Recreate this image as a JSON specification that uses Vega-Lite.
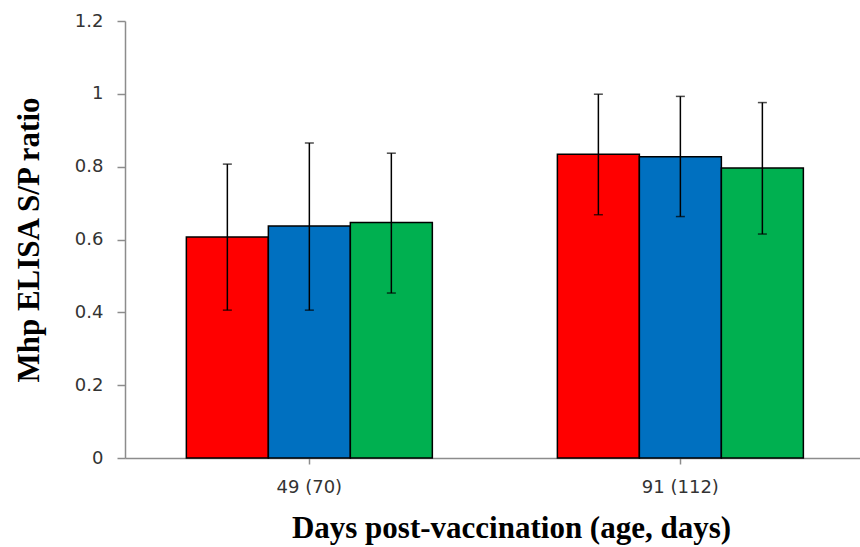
{
  "$schema": "https://vega.github.io/schema/vega-lite/v6.json",
  "width": 735,
  "height": 437,
  "autosize": "none",
  "padding": {"left": 125, "top": 21, "right": 0, "bottom": 89},
  "background": "white",
  "config": {"view": {"stroke": null}},
  "data": {
    "values": [
      {"day": "49 (70)", "group": "Group 1", "mean": 0.607, "lo": 0.406, "hi": 0.807},
      {"day": "49 (70)", "group": "Group 2", "mean": 0.637, "lo": 0.406, "hi": 0.865},
      {"day": "49 (70)", "group": "Group 3", "mean": 0.647, "lo": 0.453, "hi": 0.837},
      {"day": "91 (112)", "group": "Group 1", "mean": 0.834, "lo": 0.668, "hi": 0.999},
      {"day": "91 (112)", "group": "Group 2", "mean": 0.827, "lo": 0.663, "hi": 0.993},
      {"day": "91 (112)", "group": "Group 3", "mean": 0.796, "lo": 0.615, "hi": 0.976}
    ]
  },
  "encoding": {
    "x": {
      "field": "day", "type": "nominal",
      "scale": {"paddingInner": 0.337, "paddingOuter": 0.159, "align": 0.52},
      "axis": {
        "title": "Days post-vaccination (age, days)",
        "titleFont": "Liberation Serif", "titleFontWeight": "bold", "titleFontSize": 31, "titleColor": "black",
        "titleX": 386, "titleY": 79, "titleBaseline": "alphabetic", "titleAnchor": null,
        "labelAngle": 0, "labelFont": "DejaVu Sans", "labelFontSize": 18, "labelColor": "#333",
        "labelPadding": 14,
        "domainColor": "#8c8c8c", "domainWidth": 1.5,
        "tickColor": "#8c8c8c", "tickWidth": 1.5, "tickSize": 6
      }
    },
    "xOffset": {"field": "group", "type": "nominal"}
  },
  "layer": [
    {
      "mark": {"type": "bar", "stroke": "black", "strokeWidth": 1.5},
      "encoding": {
        "y": {
          "field": "mean", "type": "quantitative",
          "scale": {"domain": [0, 1.2], "nice": false},
          "axis": {
            "values": [0, 0.2, 0.4, 0.6, 0.8, 1, 1.2], "format": "~g",
            "grid": false,
            "title": "Mhp ELISA S/P ratio",
            "titleFont": "Liberation Serif", "titleFontWeight": "bold", "titleFontSize": 31, "titleColor": "black",
            "titleX": -87, "titleBaseline": "alphabetic",
            "labelFont": "DejaVu Sans", "labelFontSize": 18, "labelColor": "#333",
            "labelPadding": 14,
            "domainColor": "#8c8c8c", "domainWidth": 1.5,
            "tickColor": "#8c8c8c", "tickWidth": 1.5, "tickSize": 8
          }
        },
        "color": {
          "field": "group", "type": "nominal",
          "scale": {"range": ["#ff0000", "#0070c0", "#00b050"]},
          "legend": null
        }
      }
    },
    {
      "mark": {"type": "rule", "color": "black", "strokeWidth": 1.5},
      "encoding": {
        "y": {"field": "lo", "type": "quantitative"},
        "y2": {"field": "hi"}
      }
    },
    {
      "mark": {"type": "tick", "color": "black", "thickness": 1.5, "size": 9},
      "encoding": {"y": {"field": "lo", "type": "quantitative"}}
    },
    {
      "mark": {"type": "tick", "color": "black", "thickness": 1.5, "size": 9},
      "encoding": {"y": {"field": "hi", "type": "quantitative"}}
    }
  ]
}
